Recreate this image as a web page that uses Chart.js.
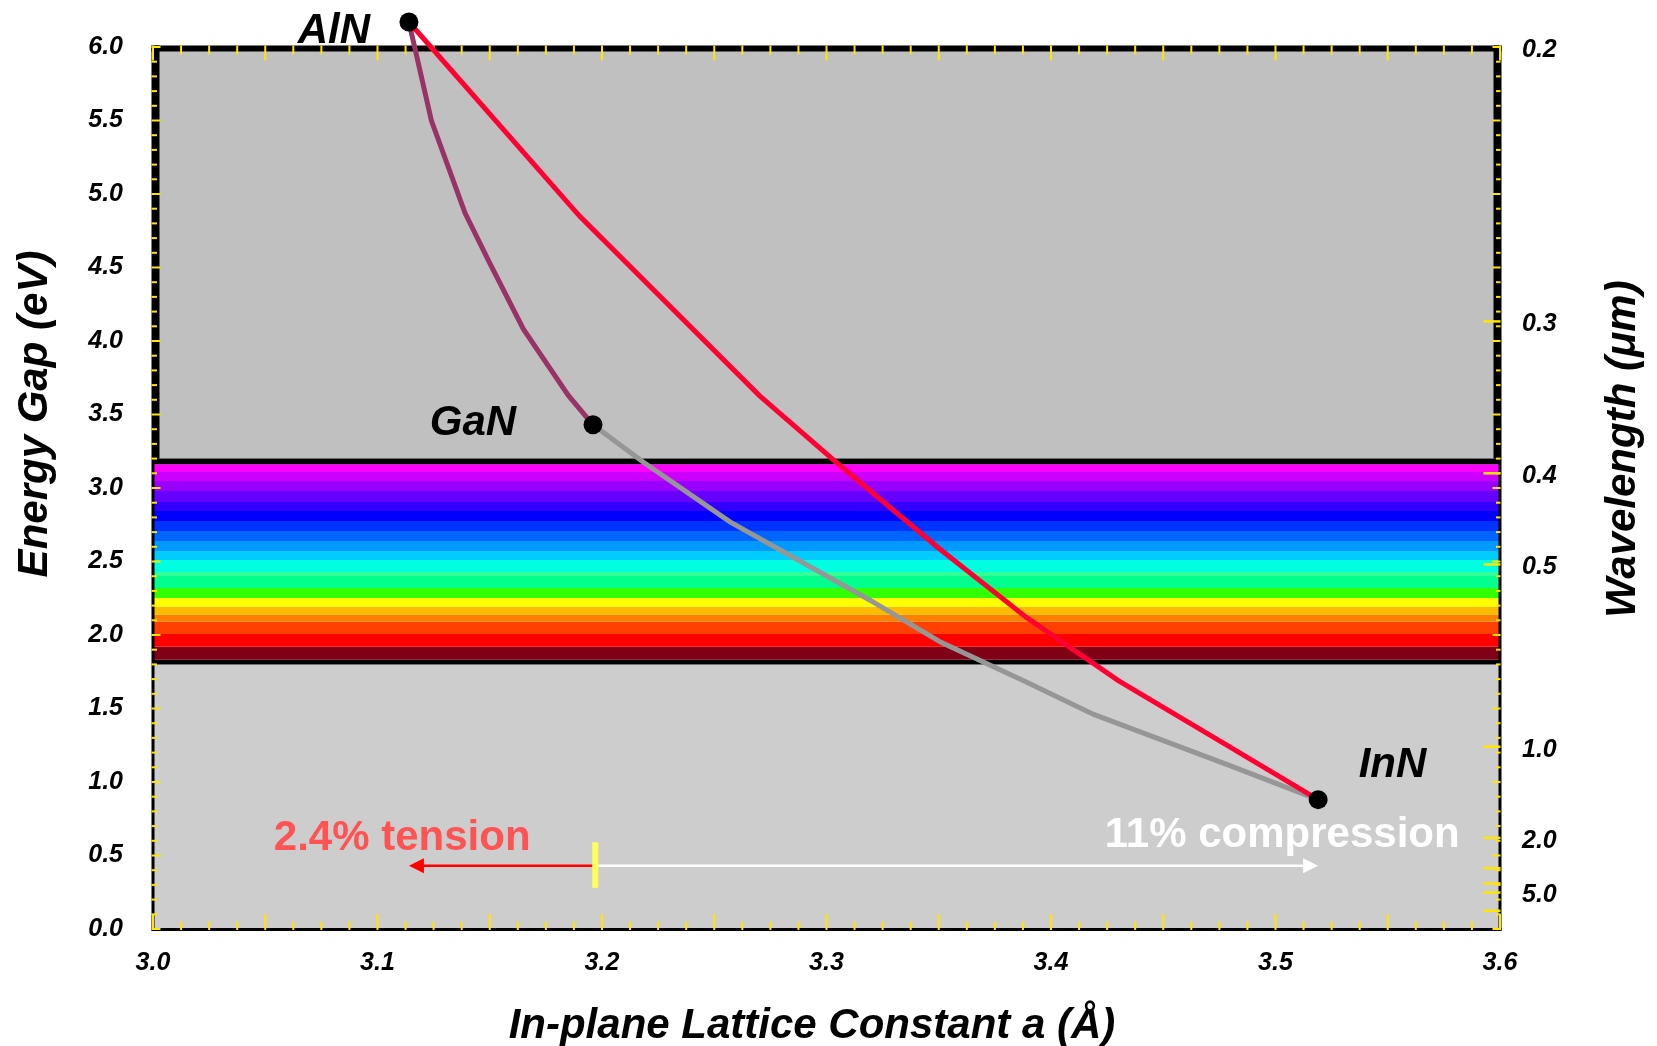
<!DOCTYPE html>
<html><head><meta charset="utf-8">
<script src="https://cdn.jsdelivr.net/npm/chart.js@4.4.1/dist/chart.umd.min.js"></script>
<style>html,body{margin:0;padding:0;background:#fff;}#wrap{width:1657px;height:1046px;}</style>
</head><body><div id="wrap"><canvas id="c" width="1657" height="1046"></canvas></div>
<script>
const FONT = "'Liberation Sans', Arial, Helvetica, sans-serif";

// Axis ranges and tick labels
const xMin = 3.0, xMax = 3.6, yMin = 0, yMax = 6.0;
const xTickValues = [3.0, 3.1, 3.2, 3.3, 3.4, 3.5, 3.6];
const yTickValues = [0, 0.5, 1.0, 1.5, 2.0, 2.5, 3.0, 3.5, 4.0, 4.5, 5.0, 5.5, 6.0];
const hc = 1.24; // eV·µm, photon energy <-> wavelength
const wlLabels = [0.2, 0.3, 0.4, 0.5, 1.0, 2.0, 5.0];
const wlExtraTicks = [3.0, 4.0, 10.0];

// Binary nitrides: in-plane lattice constant a (Å) and gap (eV)
const materials = ['AlN', 'GaN', 'InN'];
const latticeA = [3.114, 3.196, 3.519];
const energyGap = [6.17, 3.43, 0.88];
const matLabelA = [3.0806, 3.1425, 3.5521];
const matLabelE = [6.03, 3.36, 1.035];

// Ternary alloy curves
const alganA = [3.114, 3.124, 3.139, 3.150, 3.165, 3.185, 3.196];
const alganE = [6.17, 5.50, 4.87, 4.53, 4.08, 3.63, 3.43];
const inganA = [3.196, 3.218, 3.257, 3.319, 3.351, 3.389, 3.419, 3.480, 3.519];
const inganE = [3.43, 3.18, 2.77, 2.24, 1.95, 1.68, 1.46, 1.11, 0.88];
const alinnA = [3.114, 3.190, 3.270, 3.304, 3.350, 3.389, 3.430, 3.474, 3.519];
const alinnE = [6.17, 4.85, 3.63, 3.18, 2.59, 2.12, 1.69, 1.29, 0.88];

// Background regions (UV above, IR below)
const regionTops = [6.0, 1.80];
const regionBottoms = [3.20, 0.0];
const regionColors = ['#C0C0C0', '#CDCDCD'];

// Visible spectrum band edges (eV) and colours
const bandEdges = [3.20, 3.161, 3.109, 3.048, 2.980, 2.905, 2.844, 2.776, 2.708, 2.640, 2.572,
                   2.511, 2.429, 2.402, 2.319, 2.251, 2.192, 2.137, 2.090, 2.006, 1.920, 1.832, 1.80];
const bandColors = ['#000000', '#FF00FF', '#CC00FF', '#9900FF', '#6600FF', '#3300FF', '#0000FF',
                    '#0033FF', '#0066FF', '#0099FF', '#00CCFF', '#00FFE0', '#33FF99', '#00FF8C',
                    '#33FF00', '#FFFF00', '#FFBB00', '#FF8000', '#FF4000', '#FF0000', '#800015', '#000000'];

// Strain annotation
const strainRef = 3.197;
const arrowE = 0.43;
const markerLow = 0.28, markerHigh = 0.59;
const annotTexts = ['2.4% tension', '11% compression'];
const annotA = [3.111, 3.503];
const annotE = [0.537, 0.556];

const pts = (xs, ys) => xs.map((v, i) => ({x: v, y: ys[i]}));

const datasets = [];
datasets.push({label: 'AlInN', data: pts(alinnA, alinnE), borderColor: '#FF0033', borderWidth: 5,
  pointRadius: 0, fill: false, order: 1, clip: false});
datasets.push({label: 'InGaN', data: pts(inganA, inganE), borderColor: '#969696', borderWidth: 5,
  pointRadius: 0, fill: false, order: 2, clip: false});
datasets.push({label: 'AlGaN', data: pts(alganA, alganE), borderColor: '#993366', borderWidth: 5,
  pointRadius: 0, fill: false, order: 3, clip: false});
for (let i = 0; i < bandColors.length; i++) {
  datasets.push({label: 'band' + i, data: [{x: xMin, y: bandEdges[i]}, {x: xMax, y: bandEdges[i]}],
    fill: {value: bandEdges[i + 1]}, backgroundColor: bandColors[i], borderColor: 'transparent',
    borderWidth: 0, pointRadius: 0, order: 200});
}
for (let i = 0; i < regionColors.length; i++) {
  datasets.push({label: 'region' + i, data: [{x: xMin, y: regionTops[i]}, {x: xMax, y: regionTops[i]}],
    fill: {value: regionBottoms[i]}, backgroundColor: regionColors[i], borderColor: 'transparent',
    borderWidth: 0, pointRadius: 0, order: 300});
}

const tickFont = {family: FONT, size: 25, weight: 'bold', style: 'italic'};

const deco = {
  id: 'deco',
  beforeDatasetsDraw(chart) {
    const {ctx} = chart; const x = chart.scales.x, y = chart.scales.y;
    const L = x.getPixelForValue(xMin), R = x.getPixelForValue(xMax);
    const T = y.getPixelForValue(yMax), B = y.getPixelForValue(yMin);
    const yUB = y.getPixelForValue(regionBottoms[0]);
    ctx.save();
    ctx.fillStyle = '#000';
    ctx.fillRect(L - 1.5, T - 1.5, R - L + 3, 6);
    ctx.fillRect(L - 1.5, T - 1.5, 8, yUB - T + 1.5);
    ctx.fillRect(R - 6.5, T - 1.5, 8, yUB - T + 1.5);
    ctx.fillRect(L - 1.5, yUB, 3, B - yUB + 1.5);
    ctx.fillRect(R - 1.5, yUB, 3, B - yUB + 1.5);
    ctx.fillRect(L - 1.5, B - 1, R - L + 3, 3);
    ctx.strokeStyle = '#FFE600'; ctx.lineWidth = 2;
    const line = (x1, y1, x2, y2) => { ctx.beginPath(); ctx.moveTo(x1, y1); ctx.lineTo(x2, y2); ctx.stroke(); };
    for (let i = 0; i <= 48; i++) {
      const px = x.getPixelForValue(xMin + i * 0.0125); const major = i % 4 === 0;
      line(px, B + 1, px, B + 1 - (major ? 16 : 8.5));
      line(px, T - 1.5, px, T - 1.5 + (major ? 15 : 9));
    }
    for (let i = 0; i <= 60; i++) {
      const py = y.getPixelForValue(i * 0.1); const major = i % 5 === 0;
      line(L - 1.5, py, L - 1.5 + (major ? 9 : 5.5), py);
      line(R + 0.5, py, R + 0.5 - (major ? 8 : 4.5), py);
    }
    ctx.lineWidth = 2.5;
    wlLabels.concat(wlExtraTicks).forEach(w => {
      const e = hc / w;
      if (e <= yMax) { const py = y.getPixelForValue(e); line(R + 0.5, py, R + 0.5 - 17, py); }
    });
    ctx.restore();
  },
  afterDatasetsDraw(chart) {
    const {ctx} = chart; const x = chart.scales.x, y = chart.scales.y;
    ctx.save();
    // binary compound points (AlN lies above the plot frame, so drawn here unclipped)
    ctx.fillStyle = '#000';
    latticeA.forEach((a, i) => {
      ctx.beginPath();
      ctx.arc(x.getPixelForValue(a), y.getPixelForValue(energyGap[i]), 9.5, 0, Math.PI * 2);
      ctx.fill();
    });
    const arrow = (a0, a1, e, color, lw) => {
      const p0 = x.getPixelForValue(a0), p1 = x.getPixelForValue(a1), py = y.getPixelForValue(e);
      const dir = Math.sign(p1 - p0), head = 15, hw = 7.5;
      ctx.strokeStyle = color; ctx.lineWidth = lw;
      ctx.beginPath(); ctx.moveTo(p0, py); ctx.lineTo(p1 - dir * head, py); ctx.stroke();
      ctx.fillStyle = color;
      ctx.beginPath(); ctx.moveTo(p1, py); ctx.lineTo(p1 - dir * head, py - hw); ctx.lineTo(p1 - dir * head, py + hw);
      ctx.closePath(); ctx.fill();
    };
    arrow(strainRef, latticeA[0], arrowE, '#FF0000', 2.5);
    arrow(strainRef, latticeA[2], arrowE, '#FFFFFF', 2.5);
    const mx = x.getPixelForValue(strainRef);
    const mTop = y.getPixelForValue(markerHigh), mBot = y.getPixelForValue(markerLow);
    ctx.fillStyle = '#FFFF59';
    ctx.fillRect(mx - 3, mTop, 6, mBot - mTop);

    ctx.textAlign = 'center'; ctx.textBaseline = 'alphabetic';
    ctx.font = `italic bold 42px ${FONT}`;
    ctx.fillStyle = '#000';
    materials.forEach((m, i) => ctx.fillText(m, x.getPixelForValue(matLabelA[i]), y.getPixelForValue(matLabelE[i])));
    ctx.font = `bold 42px ${FONT}`;
    const annotColors = ['#FF5252', '#FFFFFF'];
    annotTexts.forEach((t, i) => { ctx.fillStyle = annotColors[i]; ctx.fillText(t, x.getPixelForValue(annotA[i]), y.getPixelForValue(annotE[i])); });

    // axis titles
    ctx.font = `italic bold 42px ${FONT}`;
    ctx.fillStyle = '#000';
    ctx.fillText('In-plane Lattice Constant a (Å)', 812, 1038);
    ctx.save(); ctx.translate(46.5, 414); ctx.rotate(-Math.PI / 2); ctx.fillText('Energy Gap (eV)', 0, 0); ctx.restore();
    ctx.save(); ctx.translate(1635, 449); ctx.rotate(-Math.PI / 2); ctx.fillText('Wavelength (μm)', 0, 0); ctx.restore();
    ctx.restore();
  }
};

new Chart(document.getElementById('c'), {
  type: 'line',
  data: {datasets},
  options: {
    responsive: false, animation: false, events: [],
    layout: {padding: {top: 47, left: 0, right: 0, bottom: 0}},
    plugins: {legend: {display: false}, tooltip: {enabled: false}, filler: {drawTime: 'beforeDatasetsDraw'}},
    scales: {
      x: {type: 'linear', position: 'bottom', min: xMin, max: xMax,
        grid: {display: false, drawTicks: false}, border: {display: false},
        afterBuildTicks: s => { s.ticks = xTickValues.map(v => ({value: v})); },
        afterFit: s => { s.height = 117; },
        ticks: {font: tickFont, color: '#000', padding: 19, autoSkip: false, maxRotation: 0,
          callback: v => Number(v).toFixed(1)}},
      y: {type: 'linear', position: 'left', min: yMin, max: yMax,
        grid: {display: false, drawTicks: false}, border: {display: false},
        afterBuildTicks: s => { s.ticks = yTickValues.map(v => ({value: v})); },
        afterFit: s => { s.width = 153; },
        ticks: {font: tickFont, color: '#000', padding: 30, autoSkip: false,
          callback: v => Number(v).toFixed(1)}},
      y2: {type: 'linear', position: 'right', min: yMin, max: yMax,
        grid: {display: false, drawTicks: false}, border: {display: false},
        afterBuildTicks: s => { s.ticks = wlLabels.map(w => ({value: Math.min(yMax, hc / w)})); },
        afterFit: s => { s.width = 157; },
        ticks: {font: tickFont, color: '#000', padding: 22, autoSkip: false, labelOffset: 3,
          callback: (v, i) => wlLabels[i].toFixed(1)}}
    }
  },
  plugins: [deco]
});
</script></body></html>
